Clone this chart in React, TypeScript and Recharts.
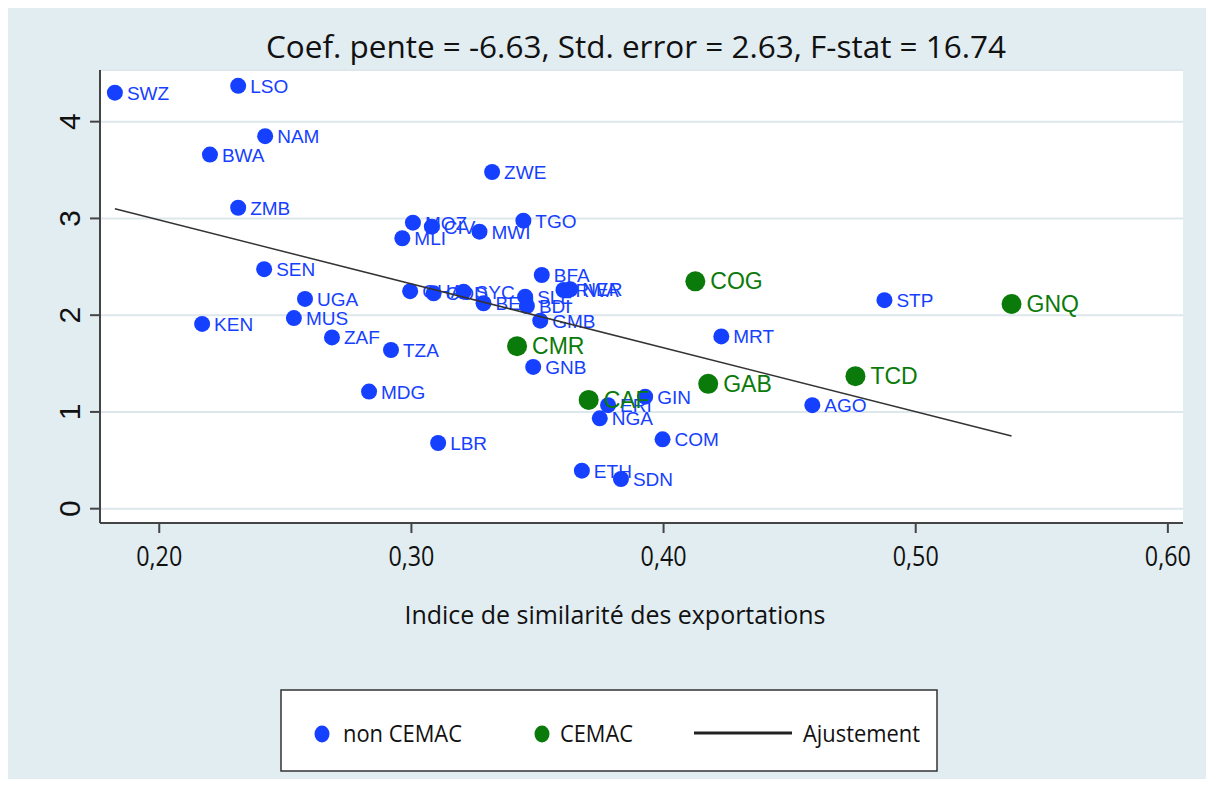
import React from 'react';
import { ScatterChart, Scatter, XAxis, YAxis, CartesianGrid } from 'recharts';

// non CEMAC countries
const nonCemacCodes = ['SWZ', 'LSO', 'NAM', 'BWA', 'ZWE', 'ZMB', 'MOZ', 'CIV', 'MLI', 'MWI', 'TGO', 'SEN', 'BFA', 'GHA', 'COD', 'SYC', 'BEN', 'SLE', 'BDI', 'RWA', 'NER', 'GMB', 'UGA', 'KEN', 'MUS', 'ZAF', 'TZA', 'MDG', 'LBR', 'GNB', 'STP', 'MRT', 'AGO', 'GIN', 'ERI', 'NGA', 'COM', 'ETH', 'SDN'];
const nonCemacX = [0.1824, 0.2313, 0.2420, 0.2201, 0.3320, 0.2313, 0.3006, 0.3081, 0.2964, 0.3270, 0.3444, 0.2416, 0.3517, 0.2995, 0.3088, 0.3207, 0.3286, 0.3451, 0.3458, 0.3603, 0.3630, 0.3511, 0.2578, 0.2170, 0.2534, 0.2685, 0.2919, 0.2832, 0.3106, 0.3483, 0.4876, 0.4229, 0.4590, 0.3927, 0.3780, 0.3747, 0.3996, 0.3676, 0.3831];
const nonCemacY = [4.30, 4.37, 3.85, 3.66, 3.48, 3.11, 2.956, 2.915, 2.795, 2.863, 2.977, 2.475, 2.415, 2.248, 2.226, 2.243, 2.123, 2.191, 2.095, 2.26, 2.268, 1.943, 2.168, 1.91, 1.97, 1.77, 1.64, 1.21, 0.679, 1.465, 2.155, 1.78, 1.07, 1.158, 1.07, 0.934, 0.717, 0.393, 0.307];

// CEMAC countries
const cemacCodes = ['COG', 'GNQ', 'CMR', 'TCD', 'GAB', 'CAF'];
const cemacX = [0.4126, 0.5380, 0.3419, 0.4761, 0.4177, 0.3703];
const cemacY = [2.35, 2.116, 1.68, 1.37, 1.29, 1.124];

// fitted line end points
const fitX = [0.1824, 0.538];
const fitY = [3.10, 0.751];

const xTicks = [0.2, 0.3, 0.4, 0.5, 0.6];
const yTicks = [0, 1, 2, 3, 4];

const title = 'Coef. pente = -6.63, Std. error = 2.63, F-stat = 16.74';
const xTitle = 'Indice de similarité des exportations';

const BLUE = '#1540ff';
const GREEN = '#0a7a0a';
const BG = '#e2edf2';

const nonCemac = nonCemacCodes.map((c, i) => ({ code: c, x: nonCemacX[i], y: nonCemacY[i] }));
const cemac = cemacCodes.map((c, i) => ({ code: c, x: cemacX[i], y: cemacY[i] }));
const fit = fitX.map((x, i) => ({ x, y: fitY[i] }));

const BlueDot = (props: any) => (
  <g>
    <circle cx={props.cx} cy={props.cy} r={8} fill={BLUE} />
    <text x={props.cx + 12} y={props.cy + 7} fontSize={19} fill={BLUE} fontFamily="Liberation Sans, Arial, sans-serif">
      {props.payload.code}
    </text>
  </g>
);

const GreenDot = (props: any) => (
  <g>
    <circle cx={props.cx} cy={props.cy} r={10} fill={GREEN} />
    <text x={props.cx + 15} y={props.cy + 8} fontSize={23} fill={GREEN} fontFamily="Liberation Sans, Arial, sans-serif">
      {props.payload.code}
    </text>
  </g>
);

const XTick = ({ x, y, payload }: any) => (
  <text x={x} y={y + 33} textAnchor="middle" fontSize={28} fill="#111" fontFamily="Open Sans, sans-serif"
    textLength={46} lengthAdjust="spacingAndGlyphs">
    {payload.value.toFixed(2).replace('.', ',')}
  </text>
);

const YTick = ({ x, y, payload }: any) => (
  <text x={x} y={y} transform={`rotate(-90, ${x}, ${y})`} textAnchor="middle" fontSize={30} fill="#111"
    fontFamily="Liberation Sans, Arial, sans-serif">
    {payload.value}
  </text>
);

export default function App() {
  return (
    <div style={{ position: 'relative', width: 1214, height: 787, margin: -8, background: BG, overflow: 'hidden' }}>
      <ScatterChart width={1214} height={787} margin={{ top: 70, right: 31, left: 40, bottom: 204 }}>
        <CartesianGrid vertical={false} fill="#fff" stroke="#dde7ec" strokeWidth={2} />
        <XAxis type="number" dataKey="x" domain={[0.1765, 0.606]} ticks={xTicks} allowDataOverflow
          height={60} tickSize={10} tickMargin={0} tick={<XTick />}
          axisLine={{ stroke: '#444', strokeWidth: 2 }} tickLine={{ stroke: '#444', strokeWidth: 2 }} />
        <YAxis type="number" dataKey="y" domain={[-0.148, 4.534]} ticks={yTicks} allowDataOverflow
          width={60} tickSize={10} tickMargin={10} tick={<YTick />}
          axisLine={{ stroke: '#444', strokeWidth: 2 }} tickLine={{ stroke: '#444', strokeWidth: 2 }} />
        <Scatter data={nonCemac} shape={<BlueDot />} isAnimationActive={false} />
        <Scatter data={cemac} shape={<GreenDot />} isAnimationActive={false} />
        <Scatter data={fit} line={{ stroke: '#333', strokeWidth: 1.5 }} shape={() => <g />} isAnimationActive={false} />
      </ScatterChart>
      <svg width={1214} height={787} style={{ position: 'absolute', left: 0, top: 0, pointerEvents: 'none' }}>
        <text x={636} y={58} textAnchor="middle" fontSize={31} fill="#111" fontFamily="Open Sans, sans-serif"
          textLength={740} lengthAdjust="spacingAndGlyphs">{title}</text>
        <text x={615} y={624} textAnchor="middle" fontSize={25} fill="#111" fontFamily="Open Sans, sans-serif"
          textLength={421} lengthAdjust="spacingAndGlyphs">{xTitle}</text>
        <rect x={281} y={690} width={656} height={81} fill="#fff" stroke="#333" strokeWidth={1.5} />
        <ellipse cx={322} cy={734} rx={7.5} ry={8.5} fill={BLUE} />
        <text x={343} y={742} fontSize={24} fill="#111" fontFamily="Open Sans, sans-serif"
          textLength={119} lengthAdjust="spacingAndGlyphs">non CEMAC</text>
        <ellipse cx={542} cy={734} rx={7.5} ry={8.5} fill={GREEN} />
        <text x={560} y={742} fontSize={24} fill="#111" fontFamily="Open Sans, sans-serif"
          textLength={73} lengthAdjust="spacingAndGlyphs">CEMAC</text>
        <line x1={694} y1={733} x2={792} y2={733} stroke="#222" strokeWidth={3} />
        <text x={803} y={742} fontSize={24} fill="#111" fontFamily="Open Sans, sans-serif"
          textLength={117} lengthAdjust="spacingAndGlyphs">Ajustement</text>
      </svg>
    </div>
  );
}
